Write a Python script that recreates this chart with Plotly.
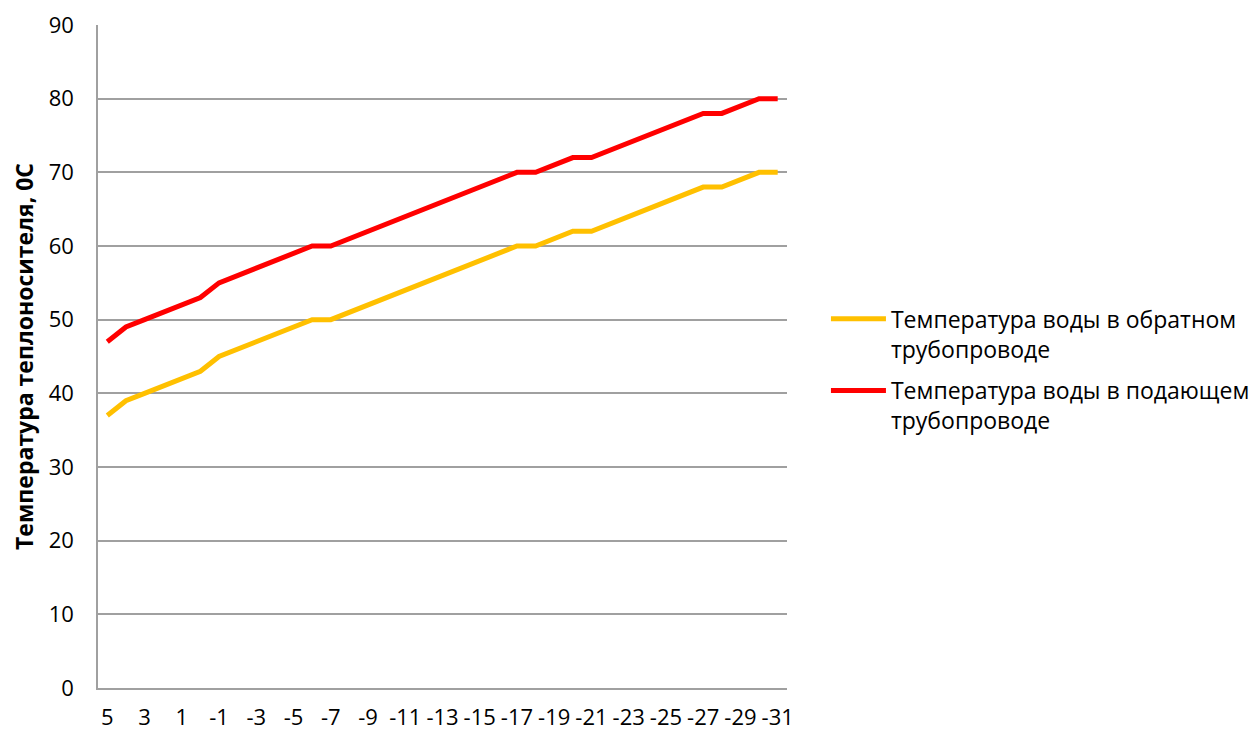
import plotly.graph_objects as go

categories = [str(v) for v in range(5, -32, -1)]
tick_labels = [str(v) for v in range(5, -32, -2)]
return_temp = [37, 39, 40, 41, 42, 43, 45, 46, 47, 48, 49, 50, 50, 51, 52, 53, 54, 55, 56, 57, 58, 59, 60,
               60, 61, 62, 62, 63, 64, 65, 66, 67, 68, 68, 69, 70, 70]
supply_temp = [47, 49, 50, 51, 52, 53, 55, 56, 57, 58, 59, 60, 60, 61, 62, 63, 64, 65, 66, 67, 68, 69, 70,
               70, 71, 72, 72, 73, 74, 75, 76, 77, 78, 78, 79, 80, 80]
series_names = ["Температура воды в обратном<br>трубопроводе", "Температура воды в подающем<br>трубопроводе"]
y_title = "Температура теплоносителя, 0С"

FONT = "Open Sans"
fig = go.Figure()
fig.add_trace(go.Scatter(x=categories, y=return_temp, mode="lines", name=series_names[0],
                         legendgroup="a", line=dict(color="#FFC000", width=5)))
fig.add_trace(go.Scatter(x=categories, y=supply_temp, mode="lines", name=series_names[1],
                         legendgroup="b", line=dict(color="#FF0000", width=5)))

fig.update_layout(
    width=1258, height=731,
    margin=dict(l=90, r=478, t=17, b=51),
    paper_bgcolor="white", plot_bgcolor="white",
    font=dict(family=FONT, size=22, color="#000000"),
    legend=dict(x=1.055, y=0.48, xanchor="left", yanchor="middle",
                font=dict(size=23), tracegroupgap=9, itemwidth=55, valign="top"),
    xaxis=dict(type="category", categoryorder="array", categoryarray=categories,
               tickmode="array", tickvals=tick_labels, ticktext=tick_labels,
               showgrid=False, showline=True, linecolor="#A0A0A0", linewidth=1.5,
               ticks="outside", ticklen=9, tickcolor="rgba(0,0,0,0)", automargin=False,
               tickfont=dict(size=22), range=[-0.5, 36.5]),
    yaxis=dict(range=[0, 90], dtick=10, showgrid=True, gridcolor="#A0A0A0", gridwidth=1.5,
               showline=True, linecolor="#A0A0A0", linewidth=1.5, zeroline=False,
               ticks="outside", ticklen=18, tickcolor="rgba(0,0,0,0)", automargin=False,
               tickfont=dict(size=22),
               title=dict(text="<b>" + y_title + "</b>", font=dict(size=23), standoff=12)),
)
fig.write_html("out.html")
